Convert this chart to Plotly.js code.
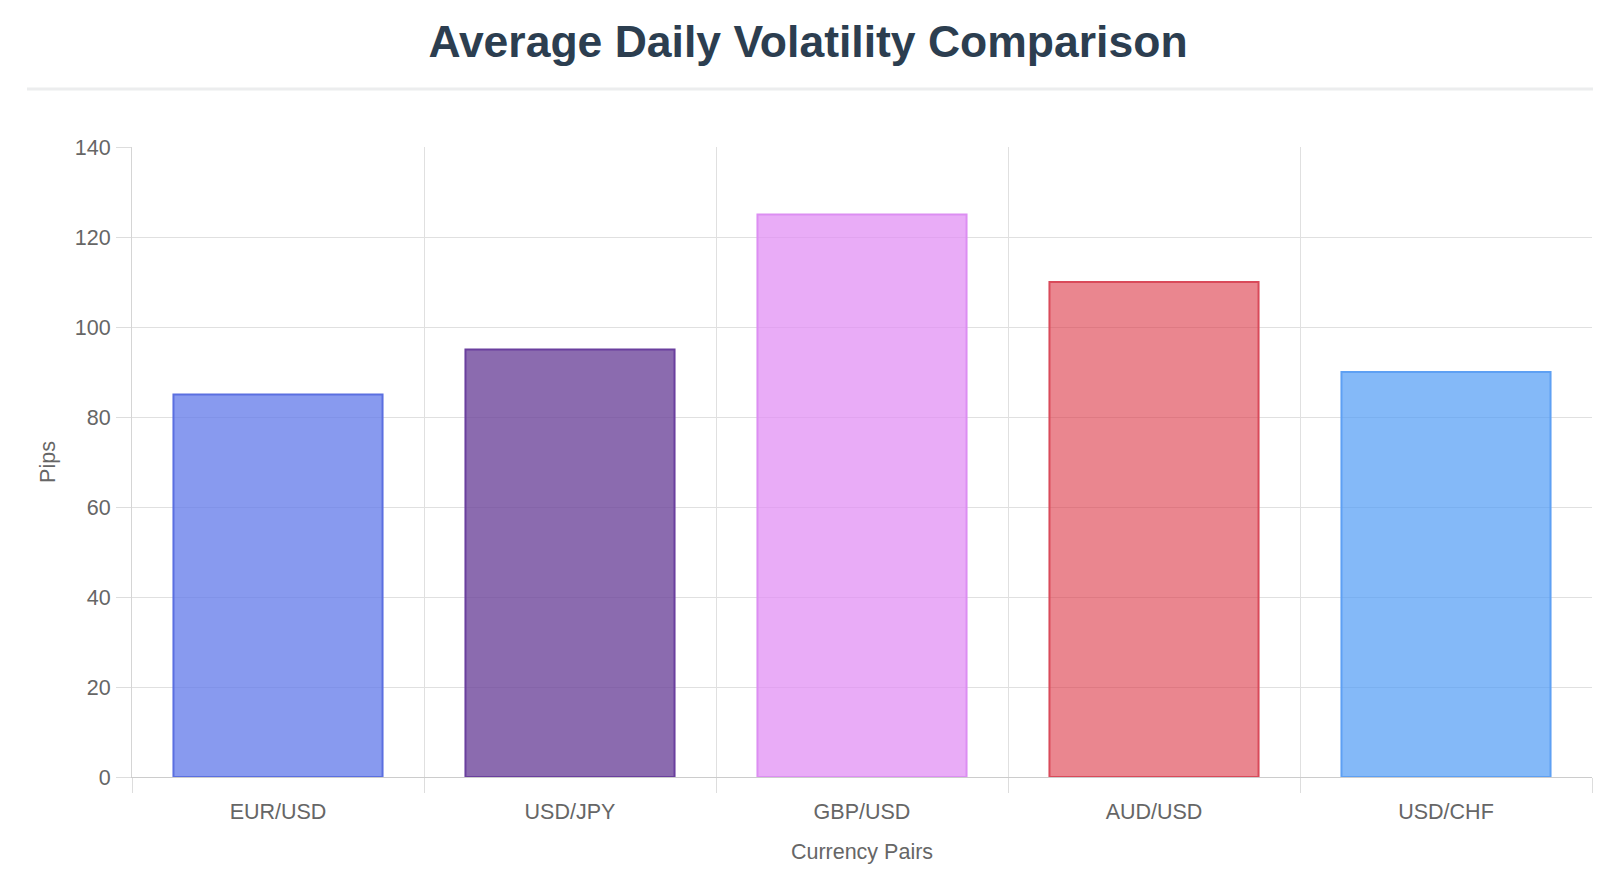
<!DOCTYPE html>
<html>
<head>
<meta charset="utf-8">
<script src="https://cdn.plot.ly/plotly-3.0.1.min.js"></script>
<style>
  html, body { margin: 0; padding: 0; background: #fff; }
  #chart { width: 1600px; height: 890px; }
</style>
</head>
<body>
<div id="chart"></div>
<script>
var pairs = ['EUR/USD', 'USD/JPY', 'GBP/USD', 'AUD/USD', 'USD/CHF'];
var pips = [85, 95, 125, 110, 90];
var fillColors = [
  'rgba(102,126,234,0.78)',
  'rgba(110,70,155,0.8)',
  'rgba(224,140,244,0.72)',
  'rgba(220,53,69,0.6)',
  'rgba(80,155,245,0.7)'
];
var borderColors = ['#5b6fe0', '#6a3f9e', '#dc8ef2', '#d94a5a', '#5ea0f3'];

var trace = {
  type: 'bar',
  x: pairs,
  y: pips,
  width: 0.716,
  marker: {
    color: fillColors,
    line: { color: borderColors, width: 2 }
  },
  hoverinfo: 'x+y'
};

var axisFont = { family: 'Liberation Sans, Arial, sans-serif', size: 21.5, color: '#666' };

// plot box in pixels
var W = 1600, H = 890;
var L = 132, R = 8, T = 147, B = 113;
var plotW = W - L - R, plotH = H - T - B;

var layout = {
  width: W,
  height: H,
  margin: { l: L, r: R, t: T, b: B },
  paper_bgcolor: '#fff',
  plot_bgcolor: '#fff',
  showlegend: false,
  bargap: 0,
  title: {
    text: '<b>Average Daily Volatility Comparison</b>',
    x: 808 / W,
    xanchor: 'center',
    y: 1 - 41 / H,
    yanchor: 'middle',
    font: { family: 'Liberation Sans, Arial, sans-serif', size: 44.5, color: '#2c3e50' }
  },
  xaxis: {
    type: 'category',
    tickson: 'boundaries',
    ticks: 'outside',
    ticklen: 15,
    tickcolor: '#ddd',
    ticklabelstandoff: 15,
    showgrid: true,
    gridcolor: '#e0e0e0',
    gridwidth: 1,
    showline: true,
    linecolor: '#ccc',
    linewidth: 1,
    tickfont: axisFont,
    title: { text: 'Currency Pairs', font: axisFont, standoff: 21 }
  },
  yaxis: {
    range: [0, 140],
    dtick: 20,
    ticks: 'outside',
    ticklen: 15,
    tickcolor: '#ddd',
    ticklabelstandoff: 1,
    showgrid: true,
    gridcolor: '#e0e0e0',
    gridwidth: 1,
    zeroline: false,
    showline: true,
    linecolor: '#d5d5d5',
    tickfont: axisFont,
    title: { text: 'Pips', font: axisFont, standoff: 13 }
  },
  shapes: [{
    type: 'line',
    xref: 'paper',
    yref: 'paper',
    x0: (27 - L) / plotW,
    x1: (1593 - L) / plotW,
    y0: (H - B - 89) / plotH,
    y1: (H - B - 89) / plotH,
    line: { color: '#ecedee', width: 3 }
  }]
};

Plotly.newPlot('chart', [trace], layout, { displayModeBar: false, staticPlot: true });
</script>
</body>
</html>
